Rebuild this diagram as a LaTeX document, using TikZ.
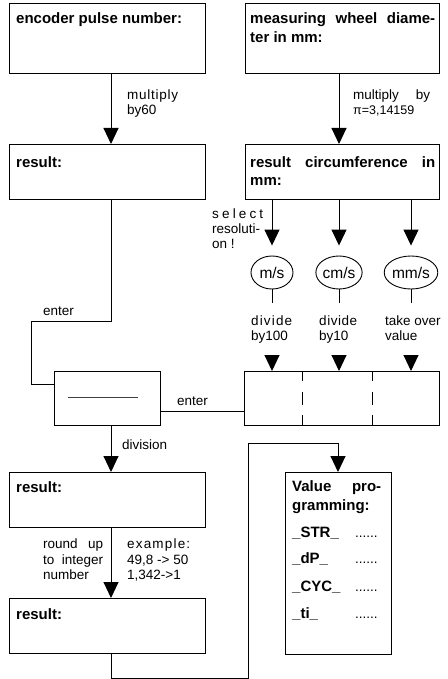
\documentclass[tikz,border=0pt]{standalone}
\usepackage{fontspec}
\setmainfont{Liberation Sans}
\usetikzlibrary{arrows.meta,shapes.geometric,calc}
\begin{document}
\begin{tikzpicture}[x=1pt,y=-1pt,
  box/.style={draw,line width=1.1pt,rectangle,inner sep=0pt,anchor=north west},
  oval/.style={draw,line width=0.9pt,ellipse,minimum width=42pt,minimum height=33pt,inner sep=0pt,font=\fontsize{15.5}{18}\selectfont},
  wire/.style={line width=1pt},
  arr/.style={line width=1pt,-{Triangle[width=15pt,length=16pt]}},
  head/.style={inner sep=0pt,anchor=base west,font=\bfseries\fontsize{15}{18}\selectfont},
  lbl/.style={inner sep=0pt,anchor=base west,font=\fontsize{13.5}{16}\selectfont}]
\useasboundingbox (0,0) rectangle (447,679);

% boxes
\node[box,minimum width=196pt,minimum height=70pt] (A) at (9,3) {};
\node[box,minimum width=194pt,minimum height=70pt] (B) at (245,3) {};
\node[box,minimum width=196pt,minimum height=55pt] (C) at (9,144) {};
\node[box,minimum width=194pt,minimum height=55pt] (D) at (245,144) {};
\node[box,minimum width=106pt,minimum height=54pt] (F) at (54,371) {};
\node[box,minimum width=195pt,minimum height=54pt] (E) at (244,371) {};
\node[box,minimum width=196pt,minimum height=55pt] (G) at (9,472) {};
\node[box,minimum width=196pt,minimum height=55pt] (H) at (9,598) {};
\node[box,minimum width=106pt,minimum height=182pt] (I) at (285,472) {};

% box titles
\node[head] (tA) at (16,23.5) {encoder pulse number:};
\node[head] (tB1) at (250,23.5) {\makebox[185pt][l]{measuring\hfill wheel\hfill diame-}};
\node[head] (tB2) at (250,42.5) {ter in mm:};
\node[head] (tC) at (16,167.4) {result:};
\node[head] (tD1) at (250,167.4) {\makebox[185pt][l]{result\hfill circumference\hfill in}};
\node[head] (tD2) at (250,185.4) {mm:};
\node[head] (tG) at (16,492.4) {result:};
\node[head] (tH) at (16,619.4) {result:};
\node[head] (tI1) at (292,491.4) {\makebox[89pt][l]{Value\hfill pro-}};
\node[head] (tI2) at (292,510.4) {gramming:};
\node[head] (tI3) at (292,537.4) {\_STR\_};
\node[head] (tI4) at (292,563.4) {\_dP\_};
\node[head] (tI5) at (292,591.4) {\_CYC\_};
\node[head] (tI6) at (292,618.4) {\_ti\_};
\foreach \y/\n in {537.4/3,563.4/4,591.4/5,618.4/6}
  \node[lbl] (dots\n) at (355,\y) {......};

% division symbol and dashed partitions
\draw[line width=1.4pt,black!75] ($(F.west)+(14,-1)$) coordinate (fl) -- ($(F.east)+(-23,-1)$) coordinate (fr);
\coordinate (d1) at (302.7,0);
\coordinate (d2) at (372.7,0);
\draw[line width=1pt,dash pattern=on 10pt off 11pt on 13pt off 10pt on 11pt]
  (E.north -| d1) -- (E.south -| d1);
\draw[line width=1pt,dash pattern=on 10pt off 11pt on 13pt off 10pt on 11pt]
  (E.north -| d2) -- (E.south -| d2);

% column positions
\coordinate (cl) at (111,0);
\coordinate (c1) at (272,0);
\coordinate (c2) at (339,0);
\coordinate (c3) at (411,0);

% resolution ovals
\node[oval] (e1) at (272,272.5) {m/s};
\node[oval] (e2) at (339,272.5) {cm/s};
\node[oval] (e3) at (411,272.5) {mm/s};

% main arrows
\draw[arr] (A.south -| cl) -- (C.north -| cl);
\draw[arr] (B.south -| c2) -- (D.north -| c2);
\draw[arr,shorten >=10pt] (D.south -| c1) -- (e1.north);
\draw[arr,shorten >=10pt] (D.south -| c2) -- (e2.north);
\draw[arr,shorten >=10pt] (D.south -| c3) -- (e3.north);
\foreach \e in {e1,e2,e3}
  \draw[wire] (\e.south) -- ++(0,14);
\foreach \c in {c1,c2,c3}
  \draw[arr] ($(E.north -| \c)+(0,-16)$) -- (E.north -| \c);

% enter paths
\coordinate (k1) at (31,321);
\draw[wire] (C.south -| cl) |- (k1) |- ($(F.north west)+(0,13)$);
\draw[wire] ($(F.north east)+(0,40)$) -- ($(E.north west)+(0,40)$);
\draw[arr] (F.south -| cl) -- (G.north -| cl);
\draw[arr] (G.south -| cl) -- (H.north -| cl);
\coordinate (k2) at (248,678);
\coordinate (k3) at (338,443);
\draw[arr] (H.south -| cl) |- (k2) |- (k3) -- (I.north -| k3);

% labels
\node[lbl] (m1) at (127,100) {\makebox[51pt][l]{m\hfill u\hfill l\hfill t\hfill i\hfill p\hfill l\hfill y}};
\node[lbl] (m2) at (127,115) {by60};
\node[lbl] (m3) at (353,100) {\makebox[77pt][l]{multiply\hfill by}};
\node[lbl] (m4) at (353,115) {\fontsize{12.5}{14}\selectfont π=3,14159};
\node[lbl] (s1) at (212,218.3) {\makebox[51pt][l]{s\hfill e\hfill l\hfill e\hfill c\hfill t}};
\node[lbl] (s2) at (212,233) {resoluti-};
\node[lbl] (s3) at (212,248) {on !};
\node[lbl] (v1) at (251,325) {\makebox[41pt][l]{d\hfill i\hfill v\hfill i\hfill d\hfill e}};
\node[lbl] (v2) at (251,340.7) {by100};
\node[lbl] (v3) at (319,325) {\makebox[38pt][l]{d\hfill i\hfill v\hfill i\hfill d\hfill e}};
\node[lbl] (v4) at (319,340.7) {by10};
\node[lbl] (v5) at (385,325) {take over};
\node[lbl] (v6) at (385,340.7) {value};
\node[lbl] (n1) at (43,315) {enter};
\node[lbl] (n2) at (177,405) {enter};
\node[lbl] (n3) at (122,449) {division};
\node[lbl] (r1) at (43,548) {\makebox[60pt][l]{round\hfill up}};
\node[lbl] (r2) at (43,564) {\makebox[60pt][l]{to\hfill integer}};
\node[lbl] (r3) at (43,579) {number};
\node[lbl] (x1) at (127,548) {\makebox[63pt][l]{e\hfill x\hfill a\hfill m\hfill p\hfill l\hfill e\hfill :}};
\node[lbl] (x2) at (127,564) {49,8 -> 50};
\node[lbl] (x3) at (127,579) {1,342->1};
\end{tikzpicture}
\end{document}
